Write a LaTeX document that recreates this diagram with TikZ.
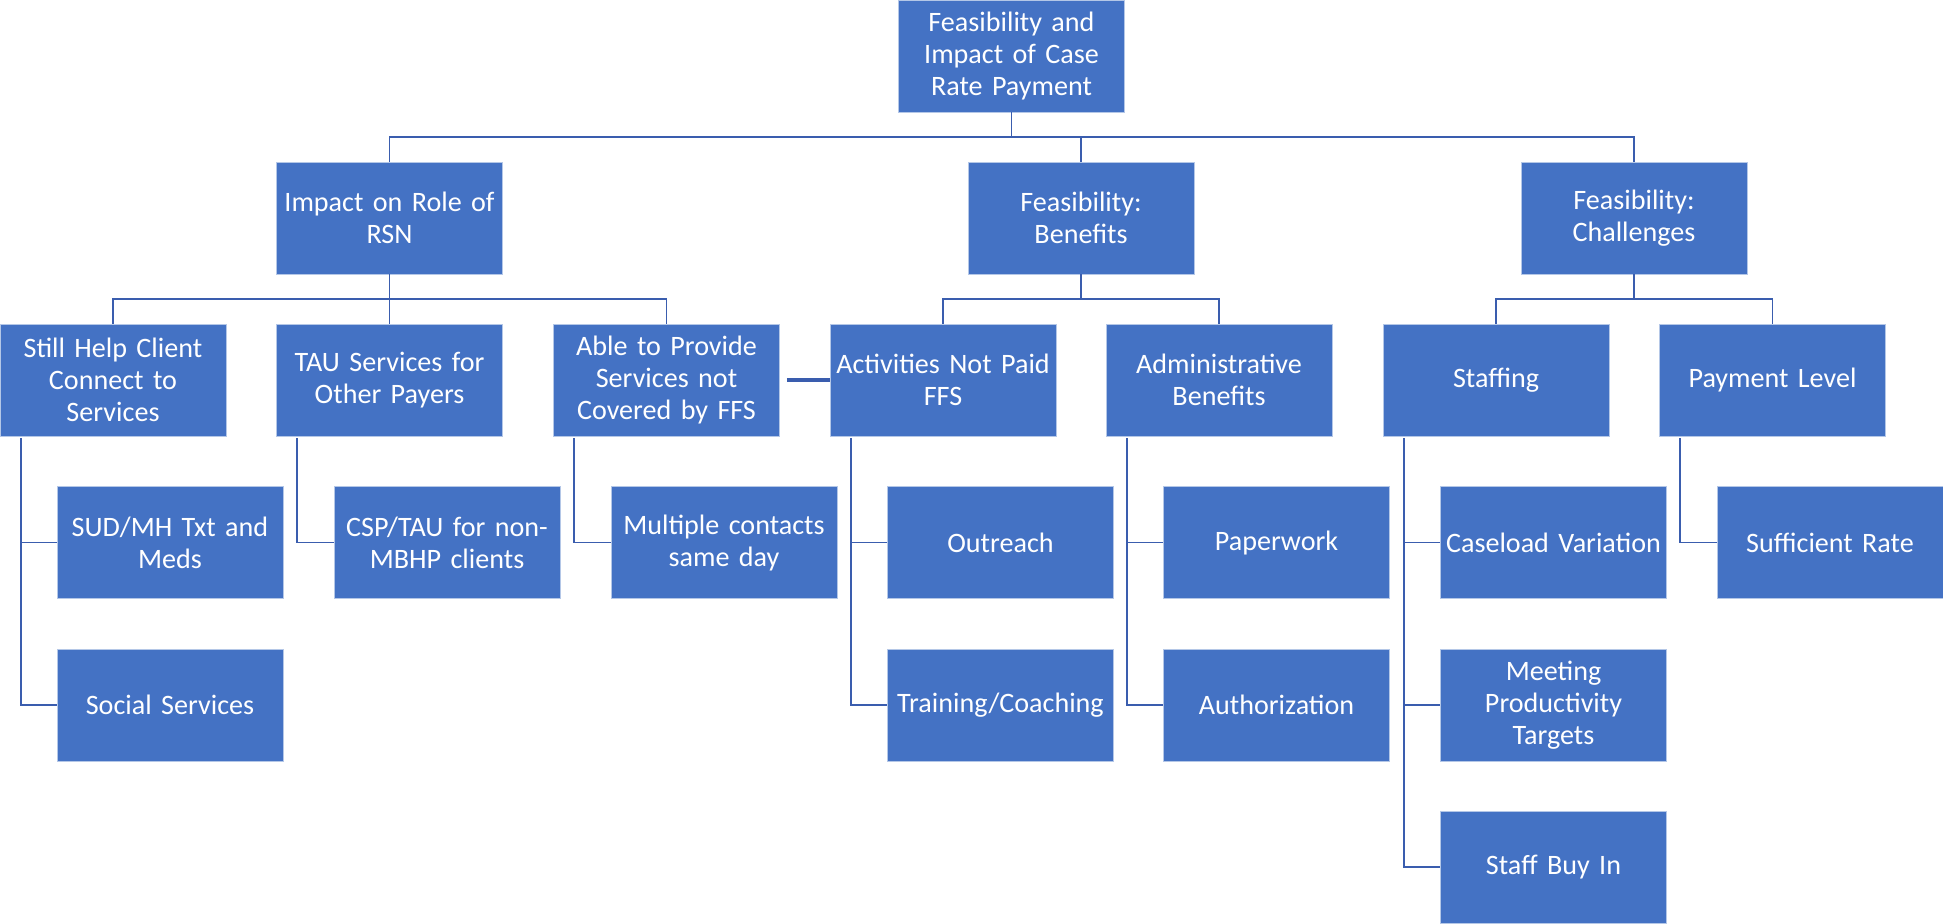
\documentclass[tikz,border=0pt]{standalone}
\usepackage{fontspec}
\setmainfont{Carlito}
\definecolor{boxblue}{HTML}{4472C4}
\definecolor{lineblue}{HTML}{3A5DAE}
\tikzset{
  blk/.style={fill=boxblue, draw=white!60!boxblue, line width=0.4pt, minimum width=4.52cm, minimum height=2.24cm, text width=4.5cm, inner sep=0pt, align=center, text=white, font=\fontsize{16}{18.2}\selectfont},
  lnk/.style={draw=lineblue, line width=1.1pt},
}
\begin{document}
\begin{tikzpicture}
\useasboundingbox (0,0) rectangle (38.86,-18.46);

\node (root) at (20.23,-1.12) [blk]{Feasibility and\\Impact of Case\\Rate Payment};

\node (imp) at (7.79,-4.36) [blk]{Impact on Role of\\RSN};
\node (ben) at (21.62,-4.36) [blk]{Feasibility:\\Benefits};
\node (cha) at (32.68,-4.36) [blk]{Feasibility:\\Challenges};

\node (help) at (2.26,-7.60) [blk]{Still Help Client\\Connect to\\Services};
\node (tau) at (7.79,-7.60) [blk]{TAU Services for\\Other Payers};
\node (able) at (13.33,-7.60) [blk]{Able to Provide\\Services not\\Covered by FFS};
\node (act) at (18.86,-7.60) [blk]{Activities Not Paid\\FFS};
\node (adm) at (24.38,-7.60) [blk]{Administrative\\Benefits};
\node (staff) at (29.92,-7.60) [blk]{Staffing};
\node (pay) at (35.45,-7.60) [blk]{Payment Level};

\node (sud) at (3.40,-10.85) [blk]{SUD/MH Txt and\\Meds};
\node (soc) at (3.40,-14.10) [blk]{Social Services};
\node (csp) at (8.94,-10.85) [blk]{CSP/TAU for non-\\MBHP clients};
\node (mult) at (14.48,-10.85) [blk]{Multiple contacts\\same day};
\node (out) at (20.01,-10.85) [blk]{Outreach};
\node (train) at (20.01,-14.10) [blk]{Training/Coaching};
\node (paper) at (25.53,-10.85) [blk]{Paperwork};
\node (auth) at (25.53,-14.10) [blk]{Authorization};
\node (case) at (31.07,-10.85) [blk]{Caseload Variation};
\node (meet) at (31.07,-14.10) [blk]{Meeting\\Productivity\\Targets};
\node (buy) at (31.07,-17.34) [blk]{Staff Buy In};
\node (suff) at (36.60,-10.85) [blk]{Sufficient Rate};

\foreach \k in {imp,ben,cha}
  \draw [lnk] (root.south) -- ++(0,-0.5) -| (\k.north);

\foreach \k in {help,tau,able}
  \draw [lnk] (imp.south) -- ++(0,-0.5) -| (\k.north);
\foreach \k in {act,adm}
  \draw [lnk] (ben.south) -- ++(0,-0.5) -| (\k.north);
\foreach \k in {staff,pay}
  \draw [lnk] (cha.south) -- ++(0,-0.5) -| (\k.north);

\foreach \k in {sud,soc}
  \draw [lnk] ([xshift=0.42cm,yshift=-0.04cm]help.south west) |- (\k.west);
\draw [lnk] ([xshift=0.42cm,yshift=-0.04cm]tau.south west) |- (csp.west);
\draw [lnk] ([xshift=0.42cm,yshift=-0.04cm]able.south west) |- (mult.west);
\foreach \k in {out,train}
  \draw [lnk] ([xshift=0.42cm,yshift=-0.04cm]act.south west) |- (\k.west);
\foreach \k in {paper,auth}
  \draw [lnk] ([xshift=0.42cm,yshift=-0.04cm]adm.south west) |- (\k.west);
\foreach \k in {case,meet,buy}
  \draw [lnk] ([xshift=0.42cm,yshift=-0.04cm]staff.south west) |- (\k.west);
\draw [lnk] ([xshift=0.42cm,yshift=-0.04cm]pay.south west) |- (suff.west);

% short bar between the two middle boxes
\draw [draw=lineblue, line width=2.6pt, shorten <=0.14cm] (able.east) -- (act.west);

\end{tikzpicture}
\end{document}
